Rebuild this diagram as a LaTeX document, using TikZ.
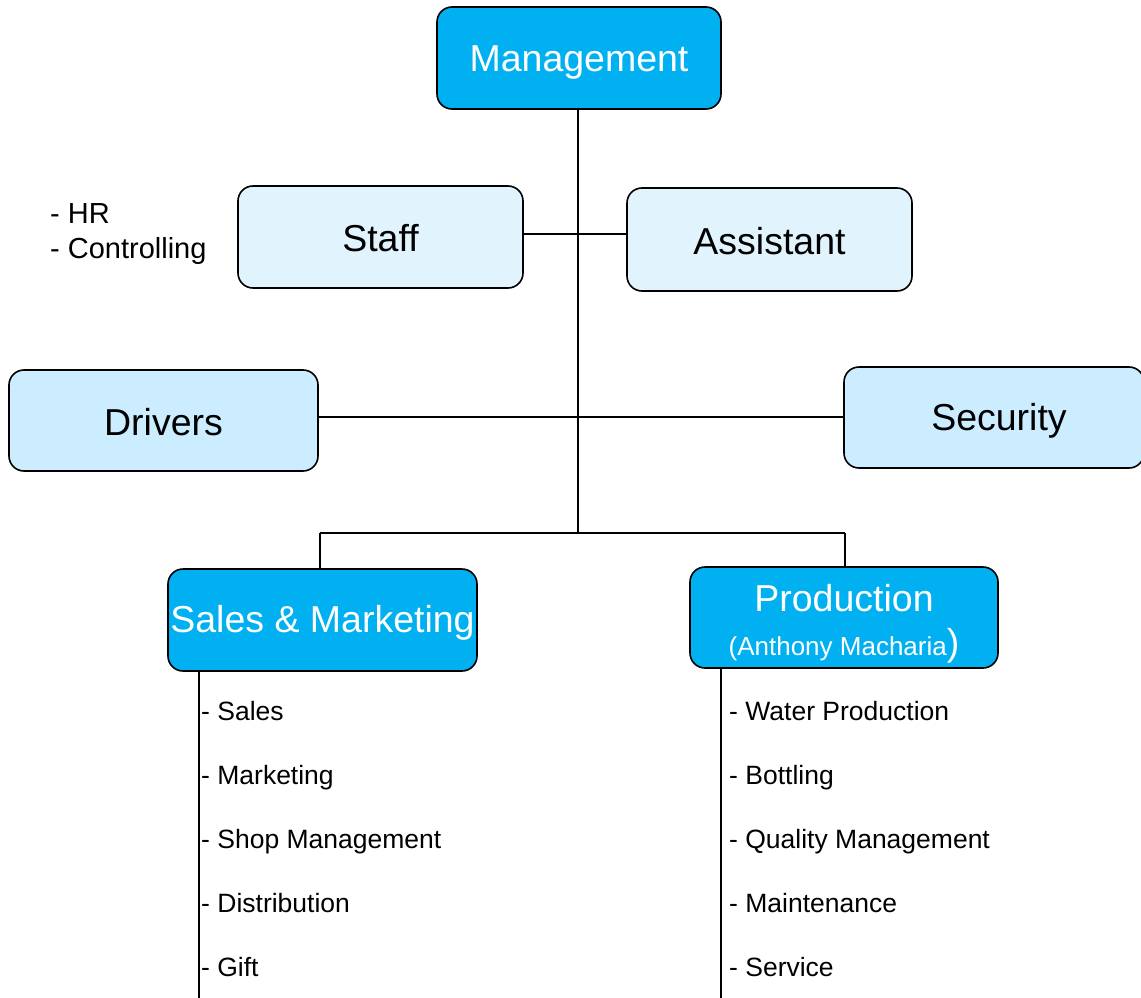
\documentclass[tikz,border=0pt]{standalone}
\usepackage{fontspec}
\setmainfont{Liberation Sans}
\definecolor{cyanbox}{HTML}{00B0F0}
\definecolor{palebox}{HTML}{E1F3FD}
\definecolor{lightbox}{HTML}{CCECFF}
\begin{document}
\begin{tikzpicture}[x=1pt,y=-1pt,
  box/.style={draw=black,line width=1.6pt,rounded corners=15pt,inner sep=0pt,anchor=center},
  bigfont/.style={font=\fontsize{37.5}{45}\selectfont},
  darkbox/.style={box,fill=cyanbox},
  palestyle/.style={box,fill=palebox},
  lightstyle/.style={box,fill=lightbox},
  boxtext/.style={bigfont,inner sep=0pt},
  conn/.style={line width=1.6pt},
  item/.style={anchor=base west,inner sep=0pt,font=\fontsize{26.5}{31}\selectfont},
  note/.style={anchor=base west,inner sep=0pt,font=\fontsize{29}{34}\selectfont}]
\useasboundingbox (0,0) rectangle (1141,998);
\begin{scope}
\clip (0,0) rectangle (1141,998);
% junction coordinates
\coordinate (j1) at (578,234);
\coordinate (j2) at (578,417);
\coordinate (j3) at (578,533);
\coordinate (sl) at (320,533);
\coordinate (pr) at (845,533);
\coordinate (sEnd) at (199,998);
\coordinate (pEnd) at (721,998);
% connectors
\draw[conn] (578,100) -- (j3);
\draw[conn] (sl) -- (pr);
\draw[conn] (sl) -- (320,575);
\draw[conn] (pr) -- (845,575);
\draw[conn] (523,234) -- (627,234);
\draw[conn] (318,417) -- (844,417);
\draw[conn] (199,660) -- (sEnd);
\draw[conn] (721,660) -- (pEnd);
% boxes
\node[darkbox,minimum width=284pt,minimum height=102pt] (Management) at (579,58) {};
\node[boxtext,text=white] (tMan) at (579,62) {Management};
\node[palestyle,minimum width=285pt,minimum height=102pt] (Staff) at (380.5,237) {};
\node[boxtext] (tStaff) at (380.5,238) {Staff};
\node[palestyle,minimum width=285pt,minimum height=103pt] (Assistant) at (769.5,239.5) {};
\node[boxtext] (tAss) at (769.5,241.5) {Assistant};
\node[lightstyle,minimum width=309pt,minimum height=101pt] (Drivers) at (163.5,420.5) {};
\node[boxtext] (tDrv) at (163.5,422.5) {Drivers};
\node[lightstyle,minimum width=300pt,minimum height=101pt] (Security) at (994,417.5) {};
\node[boxtext] (tSec) at (999,420.5) {Security};
\node[darkbox,minimum width=309pt,minimum height=102pt] (Sales) at (322.5,620) {};
\node[boxtext,text=white] (tSales) at (322.5,623) {Sales \& Marketing};
\node[darkbox,minimum width=308pt,minimum height=101pt] (Production) at (844,617.5) {};
\node[boxtext,text=white] (tProd) at (844,598) {Production};
\node[text=white,inner sep=0pt,anchor=base] (tAnt) at (844,655) {\fontsize{26}{30}\selectfont(Anthony Macharia\fontsize{37.5}{45}\selectfont)};
% left notes
\node[note] (hr) at (50,223) {- HR};
\node[note] (ctrl) at (50,258) {- Controlling};
% sales list
\node[item] (s1) at (201,720.5) {- Sales};
\node[item] (s2) at (201,784.5) {- Marketing};
\node[item] (s3) at (201,848.5) {- Shop Management};
\node[item] (s4) at (201,912.5) {- Distribution};
\node[item] (s5) at (201,976.5) {- Gift};
% production list
\node[item] (p1) at (729,720.5) {- Water Production};
\node[item] (p2) at (729,784.5) {- Bottling};
\node[item] (p3) at (729,848.5) {- Quality Management};
\node[item] (p4) at (729,912.5) {- Maintenance};
\node[item] (p5) at (729,976.5) {- Service};
\end{scope}
\end{tikzpicture}
\end{document}
